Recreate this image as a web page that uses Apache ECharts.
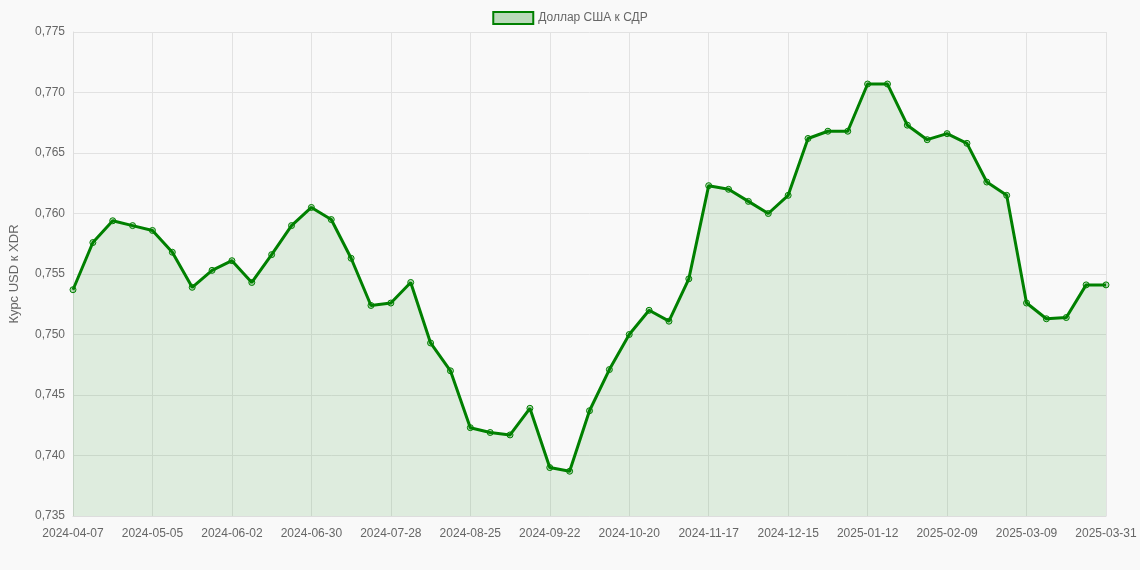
<!DOCTYPE html>
<html>
<head>
<meta charset="utf-8">
<script src="https://cdn.jsdelivr.net/npm/echarts@6/dist/echarts.min.js"></script>
<style>html,body{margin:0;padding:0;background:#f9f9f9;}#chart{width:1140px;height:570px;}</style>
</head>
<body>
<div id="chart"></div>
<script>
// Недельные даты, последняя подпись как на оригинале
const startDate = new Date(Date.UTC(2024, 3, 7));
const dates = [];
for (let i = 0; i < 53; i++) {
    const d = new Date(startDate.getTime() + i * 7 * 86400000);
    dates.push(d.toISOString().slice(0, 10));
}
dates[52] = '2025-03-31';

const rates = [
    0.7537, 0.7576, 0.7594, 0.7590, 0.7586, 0.7568, 0.7539, 0.7553, 0.7561, 0.7543,
    0.7566, 0.7590, 0.7605, 0.7595, 0.7563, 0.7524, 0.7526, 0.7543, 0.7493, 0.7470,
    0.7423, 0.7419, 0.7417, 0.7439, 0.7390, 0.7387, 0.7437, 0.7471, 0.7500, 0.7520,
    0.7511, 0.7546, 0.7623, 0.7620, 0.7610, 0.7600, 0.7615, 0.7662, 0.7668, 0.7668,
    0.7707, 0.7707, 0.7673, 0.7661, 0.7666, 0.7658, 0.7626, 0.7615, 0.7526, 0.7513,
    0.7514, 0.7541, 0.7541
];

document.addEventListener('DOMContentLoaded', () => {
    const chart = echarts.init(document.getElementById('chart'));
    const option = {
        backgroundColor: '#f9f9f9',
        animation: false,
        legend: {
            top: 6,
            left: 'center',
            icon: 'rect',
            itemWidth: 40,
            itemHeight: 12,
            textStyle: { color: '#666', fontSize: 12, fontFamily: 'Liberation Sans, Arial' },
            data: ['Доллар США к СДР']
        },
        grid: { left: 63, right: 34, top: 32, bottom: 54 },
        xAxis: {
            type: 'category',
            boundaryGap: false,
            data: dates,
            axisLine: { lineStyle: { color: '#ddd' } },
            axisTick: { show: false },
            axisLabel: {
                color: '#666', fontSize: 12, margin: 12,
                fontFamily: 'Liberation Sans, Arial',
                interval: (i) => i % 4 === 0 || i === 52
            },
            splitLine: {
                show: true,
                interval: (i) => i % 4 === 0 || i === 52,
                lineStyle: { color: '#e2e2e2' }
            }
        },
        yAxis: {
            type: 'value',
            min: 0.735,
            max: 0.775,
            interval: 0.005,
            name: 'Курс USD к XDR',
            nameLocation: 'middle',
            nameGap: 52,
            nameTextStyle: { color: '#666', fontSize: 13, fontFamily: 'Liberation Sans, Arial' },
            axisLine: { show: true, lineStyle: { color: '#ddd' } },
            axisLabel: {
                color: '#666', fontSize: 12, fontFamily: 'Liberation Sans, Arial',
                formatter: (v) => v.toFixed(3).replace('.', ',')
            },
            splitLine: { lineStyle: { color: '#e2e2e2' } }
        },
        series: [{
            name: 'Доллар США к СДР',
            type: 'line',
            data: rates,
            symbol: 'circle',
            symbolSize: 6,
            showAllSymbol: true,
            itemStyle: { color: 'rgba(0,128,0,0.25)', borderColor: '#008000', borderWidth: 1 },
            lineStyle: { color: '#008000', width: 3 },
            areaStyle: { color: 'rgba(0,128,0,0.15)' }
        }]
    };
    chart.setOption(option);
});
</script>
</body>
</html>
